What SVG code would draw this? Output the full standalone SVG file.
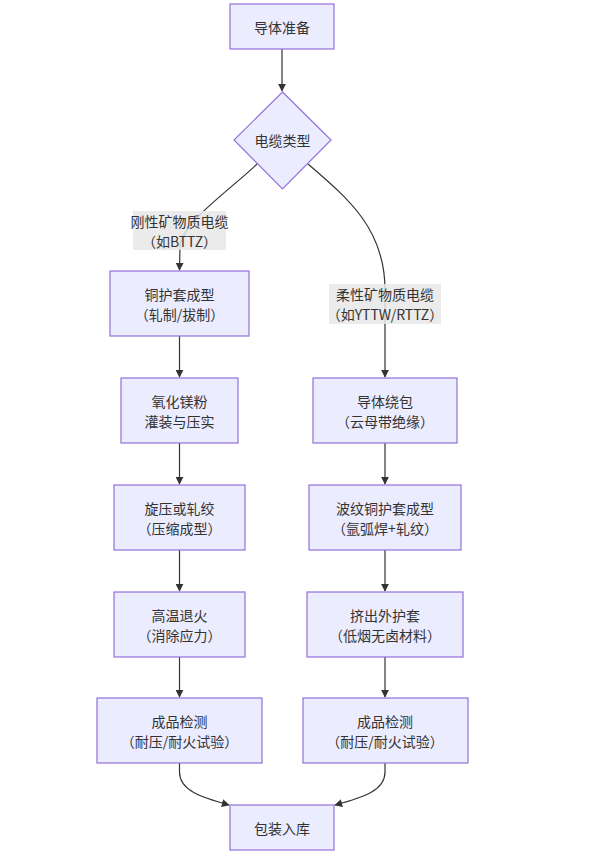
<svg xmlns="http://www.w3.org/2000/svg" width="598" height="856" viewBox="0 0 598 856">
<style>
.n{fill:#ECECFF;stroke:#9370DB;stroke-width:1.2}
.t{font-family:"Noto Sans CJK SC","Liberation Sans",sans-serif;font-size:14px;fill:#333;text-anchor:middle;dominant-baseline:central}
.e{fill:none;stroke:#333;stroke-width:1.2}
.lb{fill:#e8e8e8;opacity:0.85}
</style>
<defs>
<marker id="a" viewBox="0 0 10 10" refX="9" refY="5" markerWidth="8" markerHeight="8" orient="auto" markerUnits="userSpaceOnUse">
<path d="M0,0 L10,5 L0,10 z" fill="#333"/>
</marker>
</defs>
<rect width="598" height="856" fill="#fff"/>
<g id="edges">
<path class="e" d="M282,49 L282,91" marker-end="url(#a)"/>
<path class="e" d="M257,164 C230,190 185,220 180,245 L179.5,270" marker-end="url(#a)"/>
<path class="e" d="M308,164 C350,200 385,230 385,290 L385,377" marker-end="url(#a)"/>
<path class="e" d="M179.5,336 L179.5,377" marker-end="url(#a)"/>
<path class="e" d="M179.5,443 L179.5,484" marker-end="url(#a)"/>
<path class="e" d="M179.5,550 L179.5,591" marker-end="url(#a)"/>
<path class="e" d="M179.5,657 L179.5,697" marker-end="url(#a)"/>
<path class="e" d="M385,443 L385,484" marker-end="url(#a)"/>
<path class="e" d="M385,550 L385,591" marker-end="url(#a)"/>
<path class="e" d="M385,657 L385,697" marker-end="url(#a)"/>
<path class="e" d="M179.5,763 L179.5,772 C179.5,790 200,797 229,805" marker-end="url(#a)"/>
<path class="e" d="M385,763 L385,772 C385,790 365,797 335,805" marker-end="url(#a)"/>
</g>
<g id="label1">
<rect class="lb" x="133" y="211" width="93" height="39"/>
<text class="t" x="179.5" y="221">刚性矿物质电缆</text>
<text class="t" x="179.5" y="241">（如BTTZ）</text>
</g>
<g id="label2">
<rect class="lb" x="329" y="284" width="112" height="40"/>
<text class="t" x="385" y="294">柔性矿物质电缆</text>
<text class="t" x="385" y="314">（如YTTW/RTTZ）</text>
</g>
<g id="A"><rect class="n" x="230" y="4" width="104" height="45"/><text class="t" x="282" y="27">导体准备</text></g>
<g id="B"><path class="n" d="M282.5,92 L331,140 L282.5,189 L234,140 Z"/><text class="t" x="282.5" y="140">电缆类型</text></g>
<g id="C1"><rect class="n" x="110" y="271" width="139" height="65"/><text class="t" x="179.5" y="294">铜护套成型</text><text class="t" x="179.5" y="314">（轧制/拔制）</text></g>
<g id="C2"><rect class="n" x="121" y="378" width="117" height="65"/><text class="t" x="179.5" y="401">氧化镁粉</text><text class="t" x="179.5" y="421">灌装与压实</text></g>
<g id="C3"><rect class="n" x="114" y="485" width="131" height="65"/><text class="t" x="179.5" y="508">旋压或轧绞</text><text class="t" x="179.5" y="528">（压缩成型）</text></g>
<g id="C4"><rect class="n" x="114" y="592" width="131" height="65"/><text class="t" x="179.5" y="615">高温退火</text><text class="t" x="179.5" y="635">（消除应力）</text></g>
<g id="C5"><rect class="n" x="97" y="698" width="165" height="65"/><text class="t" x="179.5" y="721">成品检测</text><text class="t" x="179.5" y="741">（耐压/耐火试验）</text></g>
<g id="D1"><rect class="n" x="313" y="378" width="144" height="65"/><text class="t" x="385" y="401">导体绕包</text><text class="t" x="385" y="421">（云母带绝缘）</text></g>
<g id="D2"><rect class="n" x="309" y="485" width="152" height="65"/><text class="t" x="385" y="508">波纹铜护套成型</text><text class="t" x="385" y="528">（氩弧焊+轧纹）</text></g>
<g id="D3"><rect class="n" x="307" y="592" width="156" height="65"/><text class="t" x="385" y="615">挤出外护套</text><text class="t" x="385" y="635">（低烟无卤材料）</text></g>
<g id="D4"><rect class="n" x="303" y="698" width="165" height="65"/><text class="t" x="385" y="721">成品检测</text><text class="t" x="385" y="741">（耐压/耐火试验）</text></g>
<g id="E"><rect class="n" x="230" y="805" width="104" height="45"/><text class="t" x="282" y="828">包装入库</text></g>
</svg>
